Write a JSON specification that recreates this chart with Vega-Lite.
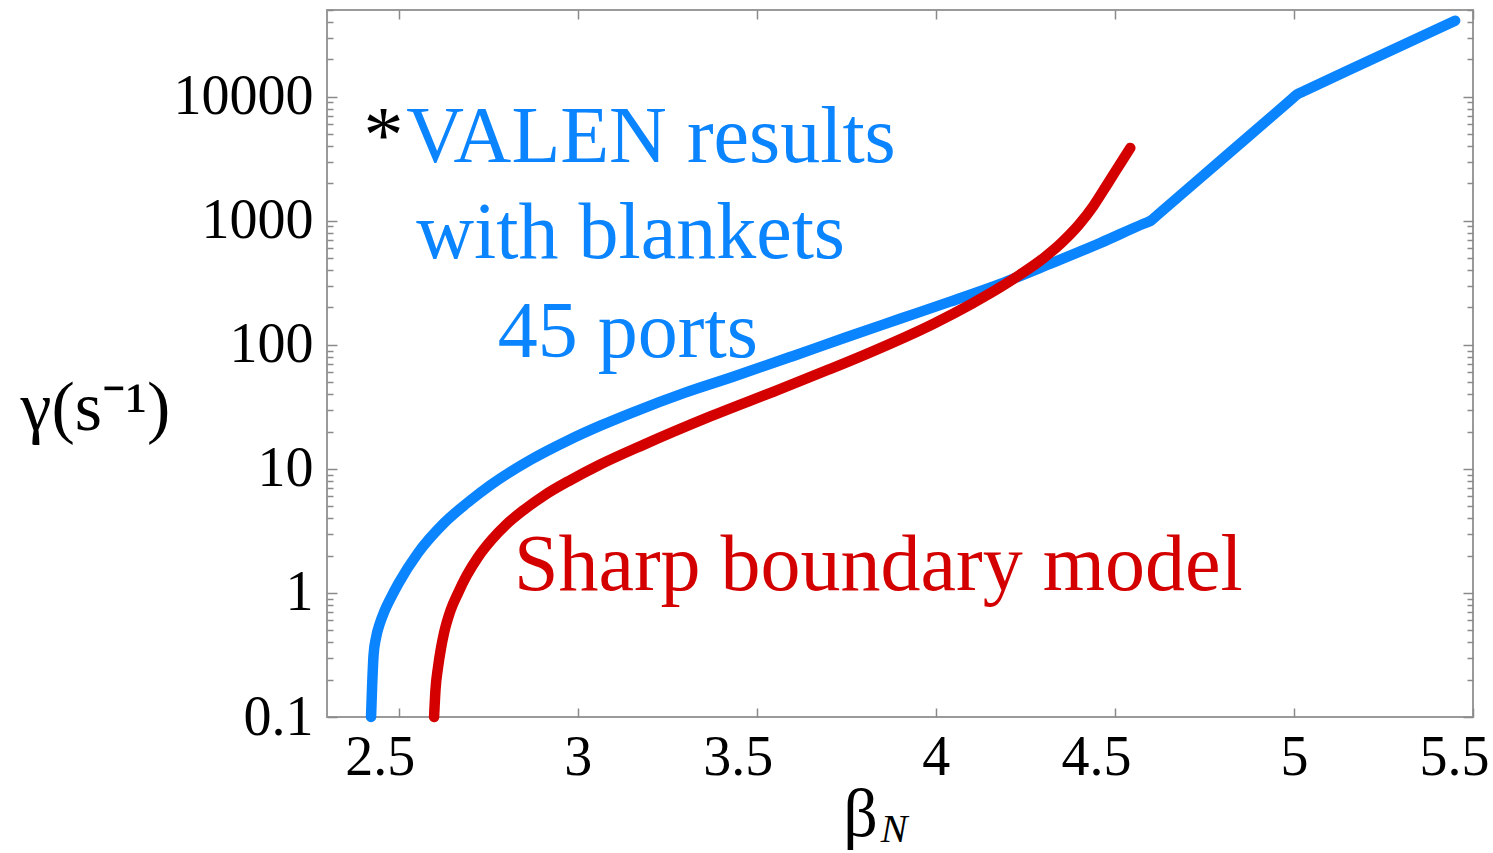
{
  "$schema": "https://vega.github.io/schema/vega-lite/v6.json",
  "width": 1146,
  "height": 707,
  "autosize": "none",
  "padding": {"left": 327, "top": 10, "right": 20, "bottom": 136},
  "background": "white",
  "config": {
    "font": "Liberation Serif",
    "view": {"stroke": "#9a9a9a", "strokeWidth": 2},
    "axis": {"domain": false, "grid": false, "tickColor": "#8a8a8a", "tickWidth": 1.5, "labelColor": "black", "labelFont": "Liberation Serif", "labelFontSize": 56, "titleFont": "Liberation Serif", "titleColor": "black", "titleFontWeight": "normal"}
  },
  "resolve": {"axis": {"x": "independent", "y": "independent"}},
  "layer": [
    {
      "data": {"values": [
        {"series": "VALEN", "beta": 2.423, "gamma": 0.1},
        {"series": "VALEN", "beta": 2.426, "gamma": 0.178},
        {"series": "VALEN", "beta": 2.43, "gamma": 0.316},
        {"series": "VALEN", "beta": 2.437, "gamma": 0.437},
        {"series": "VALEN", "beta": 2.447, "gamma": 0.562},
        {"series": "VALEN", "beta": 2.46, "gamma": 0.708},
        {"series": "VALEN", "beta": 2.48, "gamma": 0.935},
        {"series": "VALEN", "beta": 2.5, "gamma": 1.2},
        {"series": "VALEN", "beta": 2.554, "gamma": 2.1},
        {"series": "VALEN", "beta": 2.627, "gamma": 3.66},
        {"series": "VALEN", "beta": 2.7, "gamma": 5.56},
        {"series": "VALEN", "beta": 2.758, "gamma": 7.45},
        {"series": "VALEN", "beta": 2.87, "gamma": 11.9},
        {"series": "VALEN", "beta": 2.97, "gamma": 16.8},
        {"series": "VALEN", "beta": 3.065, "gamma": 22.4},
        {"series": "VALEN", "beta": 3.149, "gamma": 28.2},
        {"series": "VALEN", "beta": 3.3, "gamma": 41.2},
        {"series": "VALEN", "beta": 3.436, "gamma": 55.6},
        {"series": "VALEN", "beta": 3.6, "gamma": 81},
        {"series": "VALEN", "beta": 3.75, "gamma": 115},
        {"series": "VALEN", "beta": 3.9, "gamma": 162},
        {"series": "VALEN", "beta": 4.04, "gamma": 223},
        {"series": "VALEN", "beta": 4.18, "gamma": 310},
        {"series": "VALEN", "beta": 4.32, "gamma": 451},
        {"series": "VALEN", "beta": 4.46, "gamma": 664},
        {"series": "VALEN", "beta": 4.58, "gamma": 946},
        {"series": "VALEN", "beta": 4.6, "gamma": 1000},
        {"series": "VALEN", "beta": 4.62, "gamma": 1121},
        {"series": "VALEN", "beta": 4.8, "gamma": 3150},
        {"series": "VALEN", "beta": 4.99, "gamma": 9355},
        {"series": "VALEN", "beta": 5.01, "gamma": 10500},
        {"series": "VALEN", "beta": 5.03, "gamma": 11170},
        {"series": "VALEN", "beta": 5.25, "gamma": 22100},
        {"series": "VALEN", "beta": 5.45, "gamma": 41000},
        {"series": "Sharp", "beta": 2.599, "gamma": 0.1},
        {"series": "Sharp", "beta": 2.603, "gamma": 0.166},
        {"series": "Sharp", "beta": 2.61, "gamma": 0.251},
        {"series": "Sharp", "beta": 2.618, "gamma": 0.355},
        {"series": "Sharp", "beta": 2.627, "gamma": 0.479},
        {"series": "Sharp", "beta": 2.645, "gamma": 0.724},
        {"series": "Sharp", "beta": 2.666, "gamma": 1.0},
        {"series": "Sharp", "beta": 2.69, "gamma": 1.38},
        {"series": "Sharp", "beta": 2.722, "gamma": 1.95},
        {"series": "Sharp", "beta": 2.76, "gamma": 2.69},
        {"series": "Sharp", "beta": 2.8, "gamma": 3.55},
        {"series": "Sharp", "beta": 2.85, "gamma": 4.68},
        {"series": "Sharp", "beta": 2.906, "gamma": 6.1},
        {"series": "Sharp", "beta": 2.98, "gamma": 8.13},
        {"series": "Sharp", "beta": 3.056, "gamma": 10.6},
        {"series": "Sharp", "beta": 3.185, "gamma": 15.7},
        {"series": "Sharp", "beta": 3.372, "gamma": 26.6},
        {"series": "Sharp", "beta": 3.558, "gamma": 43.2},
        {"series": "Sharp", "beta": 3.7, "gamma": 63},
        {"series": "Sharp", "beta": 3.809, "gamma": 85},
        {"series": "Sharp", "beta": 3.994, "gamma": 148},
        {"series": "Sharp", "beta": 4.1, "gamma": 214},
        {"series": "Sharp", "beta": 4.181, "gamma": 292},
        {"series": "Sharp", "beta": 4.24, "gamma": 376},
        {"series": "Sharp", "beta": 4.301, "gamma": 501},
        {"series": "Sharp", "beta": 4.35, "gamma": 661},
        {"series": "Sharp", "beta": 4.4, "gamma": 933},
        {"series": "Sharp", "beta": 4.44, "gamma": 1318},
        {"series": "Sharp", "beta": 4.48, "gamma": 1995},
        {"series": "Sharp", "beta": 4.515, "gamma": 2884},
        {"series": "Sharp", "beta": 4.543, "gamma": 3864}
      ]},
      "mark": {"type": "line", "strokeWidth": 10.5, "strokeCap": "round", "strokeJoin": "round", "interpolate": "monotone"},
      "encoding": {
        "x": {"field": "beta", "type": "quantitative", "scale": {"domain": [2.3, 5.5], "nice": false, "zero": false},
              "axis": {"orient": "bottom", "values": [2.5, 3, 3.5, 4, 4.5, 5, 5.5], "format": "~g", "tickSize": -9, "labelPadding": 22, "labelFlush": false,
                       "labelOffset": {"condition": {"test": "datum.value % 1 != 0", "value": -19}, "value": 0},
                       "title": "β", "titleFontSize": 68, "titleX": 533, "titleY": 118, "titleAlign": "center", "titleBaseline": "alphabetic"}},
        "y": {"field": "gamma", "type": "quantitative", "scale": {"type": "log", "domain": [0.1, 50000], "nice": false},
              "axis": {"orient": "left",
                       "values": [0.1,0.2,0.3,0.4,0.5,0.6,0.7,0.8,0.9,1,2,3,4,5,6,7,8,9,10,20,30,40,50,60,70,80,90,100,200,300,400,500,600,700,800,900,1000,2000,3000,4000,5000,6000,7000,8000,9000,10000,20000,30000,40000,50000],
                       "tickSize": {"condition": {"test": "indexof([0.1,1,10,100,1000,10000], datum.value) >= 0", "value": -10}, "value": -6},
                       "labelExpr": "indexof([0.1,1,10,100,1000,10000], datum.value) >= 0 ? datum.value + '' : ''",
                       "labelPadding": 24, "labelFlush": false,
                       "title": "γ(s⁻¹)", "titleFontSize": 70, "titleAngle": 0, "titleX": -232, "titleY": 398, "titleAlign": "center", "titleBaseline": "middle"}},
        "color": {"field": "series", "type": "nominal", "scale": {"domain": ["VALEN", "Sharp", "mark"], "range": ["#0a84ff", "#d40000", "#000000"]}, "legend": null}
      }
    },
    {
      "data": {"values": [
        {"series": "mark", "label": "*", "beta": 2.402, "gamma": 2980},
        {"series": "VALEN", "label": "VALEN results", "beta": 2.521, "gamma": 2980},
        {"series": "VALEN", "label": "with blankets", "beta": 2.549, "gamma": 501},
        {"series": "VALEN", "label": "45 ports", "beta": 2.777, "gamma": 80},
        {"series": "Sharp", "label": "Sharp boundary model", "beta": 2.822, "gamma": 1.057}
      ]},
      "mark": {"type": "text", "fontSize": 80, "align": "left", "baseline": "alphabetic", "font": "Liberation Serif"},
      "encoding": {
        "x": {"field": "beta", "type": "quantitative",
              "axis": {"orient": "top", "values": [2.5, 3, 3.5, 4, 4.5, 5, 5.5], "tickSize": -9, "labels": false, "title": null}},
        "y": {"field": "gamma", "type": "quantitative",
              "axis": {"orient": "right",
                       "values": [0.1,0.2,0.3,0.4,0.5,0.6,0.7,0.8,0.9,1,2,3,4,5,6,7,8,9,10,20,30,40,50,60,70,80,90,100,200,300,400,500,600,700,800,900,1000,2000,3000,4000,5000,6000,7000,8000,9000,10000,20000,30000,40000,50000],
                       "tickSize": {"condition": {"test": "indexof([0.1,1,10,100,1000,10000], datum.value) >= 0", "value": -10}, "value": -6},
                       "labels": false, "title": null}},
        "text": {"field": "label"},
        "color": {"field": "series", "type": "nominal", "legend": null}
      }
    },
    {
      "data": {"values": [{"label": "N", "beta": 3.846, "gamma": 0.0098}]},
      "mark": {"type": "text", "fontSize": 40, "fontStyle": "italic", "align": "left", "baseline": "alphabetic", "font": "Liberation Serif", "color": "black"},
      "encoding": {
        "x": {"field": "beta", "type": "quantitative", "axis": null},
        "y": {"field": "gamma", "type": "quantitative", "axis": null},
        "text": {"field": "label"}
      }
    }
  ]
}
